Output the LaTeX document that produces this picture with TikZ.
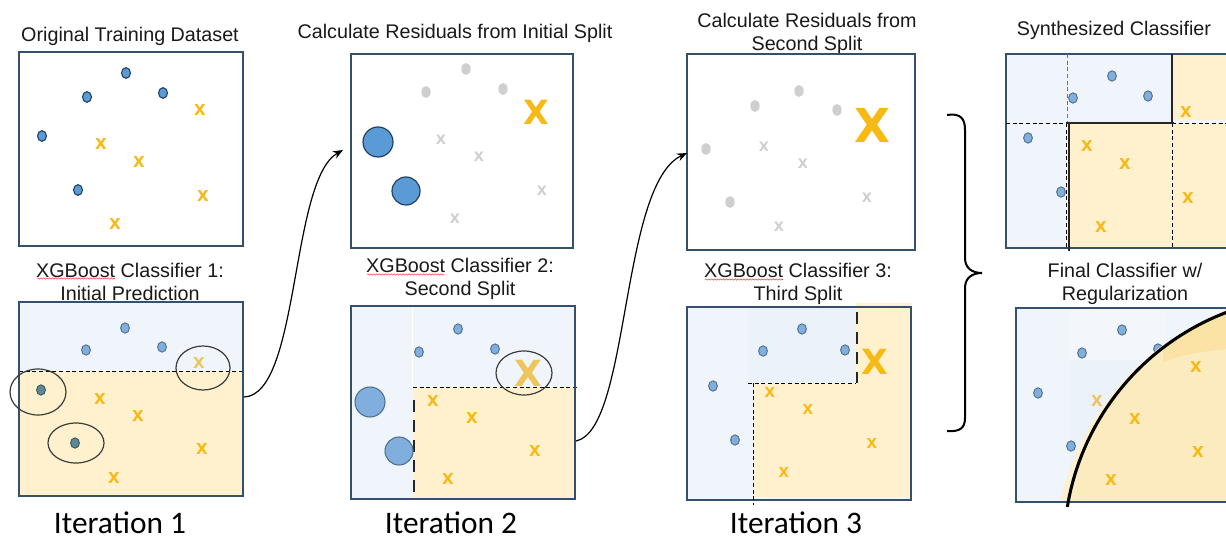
\documentclass[tikz,border=0pt]{standalone}
\usepackage{fontspec}
\setmainfont{Liberation Sans}
\newfontfamily\iterfont{Carlito}
\newfontfamily\xfont{DejaVu Sans}
\usetikzlibrary{arrows.meta,decorations.pathmorphing}
\definecolor{boxc}{HTML}{34506E}
\definecolor{dotf}{HTML}{5B9BD5}
\definecolor{dote}{HTML}{22405F}
\definecolor{ldotf}{HTML}{80AFDD}
\definecolor{ldote}{HTML}{50708F}
\definecolor{tdotf}{HTML}{5E8893}
\definecolor{tdote}{HTML}{3A5560}
\definecolor{grayc}{HTML}{CFCFCF}
\definecolor{xor}{HTML}{F6B915}
\definecolor{xpale}{HTML}{EEC55A}
\definecolor{lb}{HTML}{EFF5FB}
\definecolor{lbb}{HTML}{EBF2FA}
\definecolor{lbl}{HTML}{F3F7FC}
\definecolor{ly}{HTML}{FFF1CE}
\definecolor{ly4}{HTML}{FDEBC0}
\definecolor{lyd}{HTML}{FBE3A6}
\definecolor{halo}{HTML}{FDF1D2}
\definecolor{ringc}{HTML}{3C3C3C}
\newcommand\mkBlue[2]{\draw[fill=dotf, draw=dote, line width=0.8pt] (#1,#2) ellipse [x radius=4.5, y radius=5.3];}
\newcommand\mkLight[2]{\draw[fill=ldotf, draw=ldote, line width=0.7pt] (#1,#2) ellipse [x radius=4.4, y radius=5.2];}
\newcommand\mkTeal[2]{\draw[fill=tdotf, draw=tdote, line width=0.7pt] (#1,#2) ellipse [x radius=4.4, y radius=5.2];}
\newcommand\mkGray[2]{\fill[grayc] (#1,#2) ellipse [x radius=4.6, y radius=6];}
\newcommand\mkX[2]{\node[xm] at (#1,#2) {X};}
\newcommand\mkGX[2]{\node[gxm] at (#1,#2) {X};}
\begin{document}
\begin{tikzpicture}[x=0.75pt,y=-0.75pt,
  panel/.style={draw=boxc, line width=0.9pt},
  title/.style={font=\fontsize{14.8}{17.3}\selectfont, align=center, inner sep=0pt, text=black!90},
  iter/.style={font=\iterfont\fontsize{23.5}{28}\selectfont, inner sep=0pt, anchor=base},
  xm/.style={font=\xfont\bfseries\fontsize{11.3}{12}\selectfont, text=xor, inner sep=0pt},
  xms/.style={font=\xfont\bfseries\fontsize{10.3}{12}\selectfont, text=xor, inner sep=0pt},
  gxm/.style={font=\xfont\bfseries\fontsize{9.8}{12}\selectfont, text=grayc, inner sep=0pt},
  bigx/.style={font=\xfont\bfseries\fontsize{#1}{#1}\selectfont, text=xor, inner sep=0pt},
  ring/.style={draw=ringc, line width=0.9pt},
  split/.style={dash pattern=on 3pt off 2pt, line width=0.7pt},
  thickdash/.style={dash pattern=on 9pt off 6pt, line width=2.2pt, draw=black!85},
  solidsplit/.style={line width=1.5pt, draw=black!85},
  flow/.style={line width=0.9pt, -{Stealth[length=7.5pt,width=6pt]}},
  squig/.style={draw=red!75, line width=0.4pt, decorate, decoration={snake, amplitude=0.5pt, segment length=2.2pt}}
]
\useasboundingbox (0,0) rectangle (1226,541);
\clip (0,0) rectangle (1226,541);
\fill[white] (0,0) rectangle (1226,541);

% ---------- Panel 1 top
\node[title] (t1) at (130,36) {Original Training Dataset};
\draw[panel] (19,52) rectangle (243,246);
\mkBlue{126}{73} \mkBlue{87}{97} \mkBlue{163}{93} \mkBlue{42}{136} \mkBlue{78}{190}
\mkX{200}{110} \mkX{101}{144} \mkX{139}{162} \mkX{203}{196} \mkX{115}{224}

% ---------- Panel 1 bottom
\node[title] (t1b) at (130,282) {XGBoost Classifier 1:\\Initial Prediction};
\draw[squig] (37,278.5) -- (115,278.5);
\fill[lb] (19,302) rectangle (243,371);
\fill[ly] (19,371) rectangle (243,496);
\draw[split] (19,371) -- (243,371);
\draw[panel] (19,302) rectangle (243,496);
\mkLight{125}{328} \mkLight{86}{350} \mkLight{162}{347}
\mkTeal{41}{390} \mkTeal{75}{443}
\node[xm, text=xpale] (px1) at (199,363) {X};
\mkX{100}{399} \mkX{138}{416} \mkX{202}{449} \mkX{114}{478}
\draw[ring] (38,392) ellipse [x radius=28, y radius=23];
\draw[ring] (76,443) ellipse [x radius=28, y radius=20];
\draw[ring] (203,368) ellipse [x radius=27, y radius=22];
\node[iter] (it1) at (120,533) {Iteration 1};

% ---------- Panel 2 top
\node[title] (t2) at (455,33) {Calculate Residuals from Initial Split};
\draw[panel] (351,54) rectangle (573,248);
\mkGray{466}{69} \mkGray{426}{92} \mkGray{503}{89}
\draw[fill=dotf, draw=dote, line width=0.9pt] (378,142) circle [radius=15];
\draw[fill=dotf, draw=dote, line width=0.9pt] (406,191) circle [radius=14];
\node[bigx=25] (bx2) at (536,112) {X};
\mkGX{441}{140} \mkGX{479}{157} \mkGX{542}{191} \mkGX{455}{219}

% ---------- Panel 2 bottom
\node[title] (t2b) at (460,279) {XGBoost Classifier 2:\\Second Split};
\draw[squig] (367,274.5) -- (444,274.5);
\fill[lb] (351,306) rectangle (575,499);
\fill[ly] (413,387) rectangle (575,499);
\draw[white, line width=0.8pt] (412.5,306) -- (412.5,387);
\draw[split] (413,387) -- (577,387);
\draw[panel] (351,306) rectangle (575,499);
\draw[thickdash] (414,400) -- (414,499);
\mkLight{458}{329} \mkLight{419}{352} \mkLight{495}{349}
\draw[fill=ldotf, draw=ldote, line width=0.8pt] (370,402) circle [radius=15];
\draw[fill=ldotf, draw=ldote, line width=0.8pt] (399,451) circle [radius=14];
\node[bigx=27, text=xpale] (bx2b) at (528,373) {X};
\draw[ring] (524,373) ellipse [x radius=28, y radius=22];
\mkX{433}{401} \mkX{472}{418} \mkX{535}{451} \mkX{448}{479}
\node[iter] (it2) at (451,533) {Iteration 2};

% ---------- Panel 3 top
\node[title] (t3) at (807,34) {Calculate Residuals from\\Second Split};
\draw[panel] (687,54) rectangle (915,250);
\mkGray{799}{91} \mkGray{755}{106} \mkGray{837}{110} \mkGray{706}{149} \mkGray{730}{202}
\node[bigx=35] (bx3) at (872,125) {X};
\mkGX{764}{147} \mkGX{803}{164} \mkGX{867}{198} \mkGX{779}{227}

% ---------- Panel 3 bottom
\node[title] (t3b) at (798,284) {XGBoost Classifier 3:\\Third Split};
\draw[squig] (705,279.5) -- (783,279.5);
\fill[lb] (687,307) rectangle (911,500);
\fill[lbb] (748,307) rectangle (856,383);
\fill[ly] (856,303) rectangle (912,383);
\fill[ly] (753,383) rectangle (911,497);
\draw[panel] (687,307) rectangle (911,500);
\draw[split] (748,383) -- (856,383);
\draw[split] (753,383) -- (753,505);
\draw[thickdash] (857,312) -- (857,383);
\mkLight{802}{329} \mkLight{763}{351} \mkLight{845}{350} \mkLight{713}{386} \mkLight{735}{440}
\node[bigx=26] (bx3b) at (875,362) {X};
\node[xms] at (770,392) {X}; \node[xms] at (808,409) {X};
\node[xms] at (872,443) {X}; \node[xms] at (784,472) {X};
\node[iter] (it3) at (796,533) {Iteration 3};

% ---------- Brace
\draw[line width=1.5pt] (947,115) .. controls (960,113) and (965,118) .. (965,130)
  -- (965,258) .. controls (965,268) and (972,273) .. (982,273)
  .. controls (972,273) and (965,278) .. (965,288)
  -- (965,418) .. controls (965,428) and (960,432) .. (947,431);

% ---------- Panel 4 top
\node[title] (t4) at (1114,30) {Synthesized Classifier};
\fill[lb] (1006,54) rectangle (1240,248);
\fill[ly] (1173,54) rectangle (1240,120.5);
\fill[ly] (1069,123) rectangle (1240,248);
\draw[panel] (1006,54) rectangle (1240,248);
\draw[split, draw=black!55] (1067,54) -- (1067,123);
\draw[split] (1006,123) -- (1068,123);
\draw[split] (1066.5,123) -- (1066.5,248);
\draw[split] (1172,123) -- (1172,248);
\draw[split] (1172,123) -- (1240,123);
\draw[solidsplit] (1066,123) -- (1174,123);
\draw[solidsplit] (1172,54) -- (1172,123.8);
\draw[solidsplit] (1069,122.2) -- (1069,251);
\mkLight{1112}{76} \mkLight{1073}{98} \mkLight{1148}{96} \mkLight{1028}{138} \mkLight{1061}{192}
\mkX{1186}{112} \mkX{1087}{146} \mkX{1125}{164} \mkX{1188}{198} \mkX{1101}{227}

% ---------- Panel 4 bottom
\node[title] (t4b) at (1125,284) {Final Classifier w/\\Regularization};
\fill[lb] (1016,308) rectangle (1240,502);
\fill[lbl] (1070,308) rectangle (1165,360);
\fill[lbb] (1070,360) rectangle (1165,502);
\mkLight{1158}{349}
\begin{scope}
  \clip (1016,308) rectangle (1240,502);
  \fill[halo] (1320,560) circle [radius=266];
  \fill[ly4] (1316,548) circle [radius=252];
  \clip (1316,548) circle [radius=252];
  \fill[lyd] (1163,362) .. controls (1190,352) and (1215,350) .. (1240,348) -- (1240,300) -- (1163,300) -- cycle;
\end{scope}
\draw[panel] (1016,308) rectangle (1240,502);
\mkLight{1122}{330} \mkLight{1082}{353} \mkLight{1038}{393} \mkLight{1071}{446}
\node[xm, text=xpale] (px4) at (1097,401) {X};
\mkX{1196}{367} \mkX{1135}{419} \mkX{1198}{452} \mkX{1111}{480}
\begin{scope}
  \clip (1016,300) rectangle (1240,506);
  \draw[line width=2.3pt] (1316,548) circle [radius=252];
\end{scope}

% ---------- Arrows
\coordinate (a1s) at (244,397);
\coordinate (a1e) at (343,150);
\draw[flow] (a1s) .. controls (300,395) and (290,180) .. (a1e);
\coordinate (a2s) at (576,441);
\coordinate (a2e) at (687,153);
\draw[flow] (a2s) .. controls (630,430) and (620,185) .. (a2e);
\end{tikzpicture}
\end{document}
